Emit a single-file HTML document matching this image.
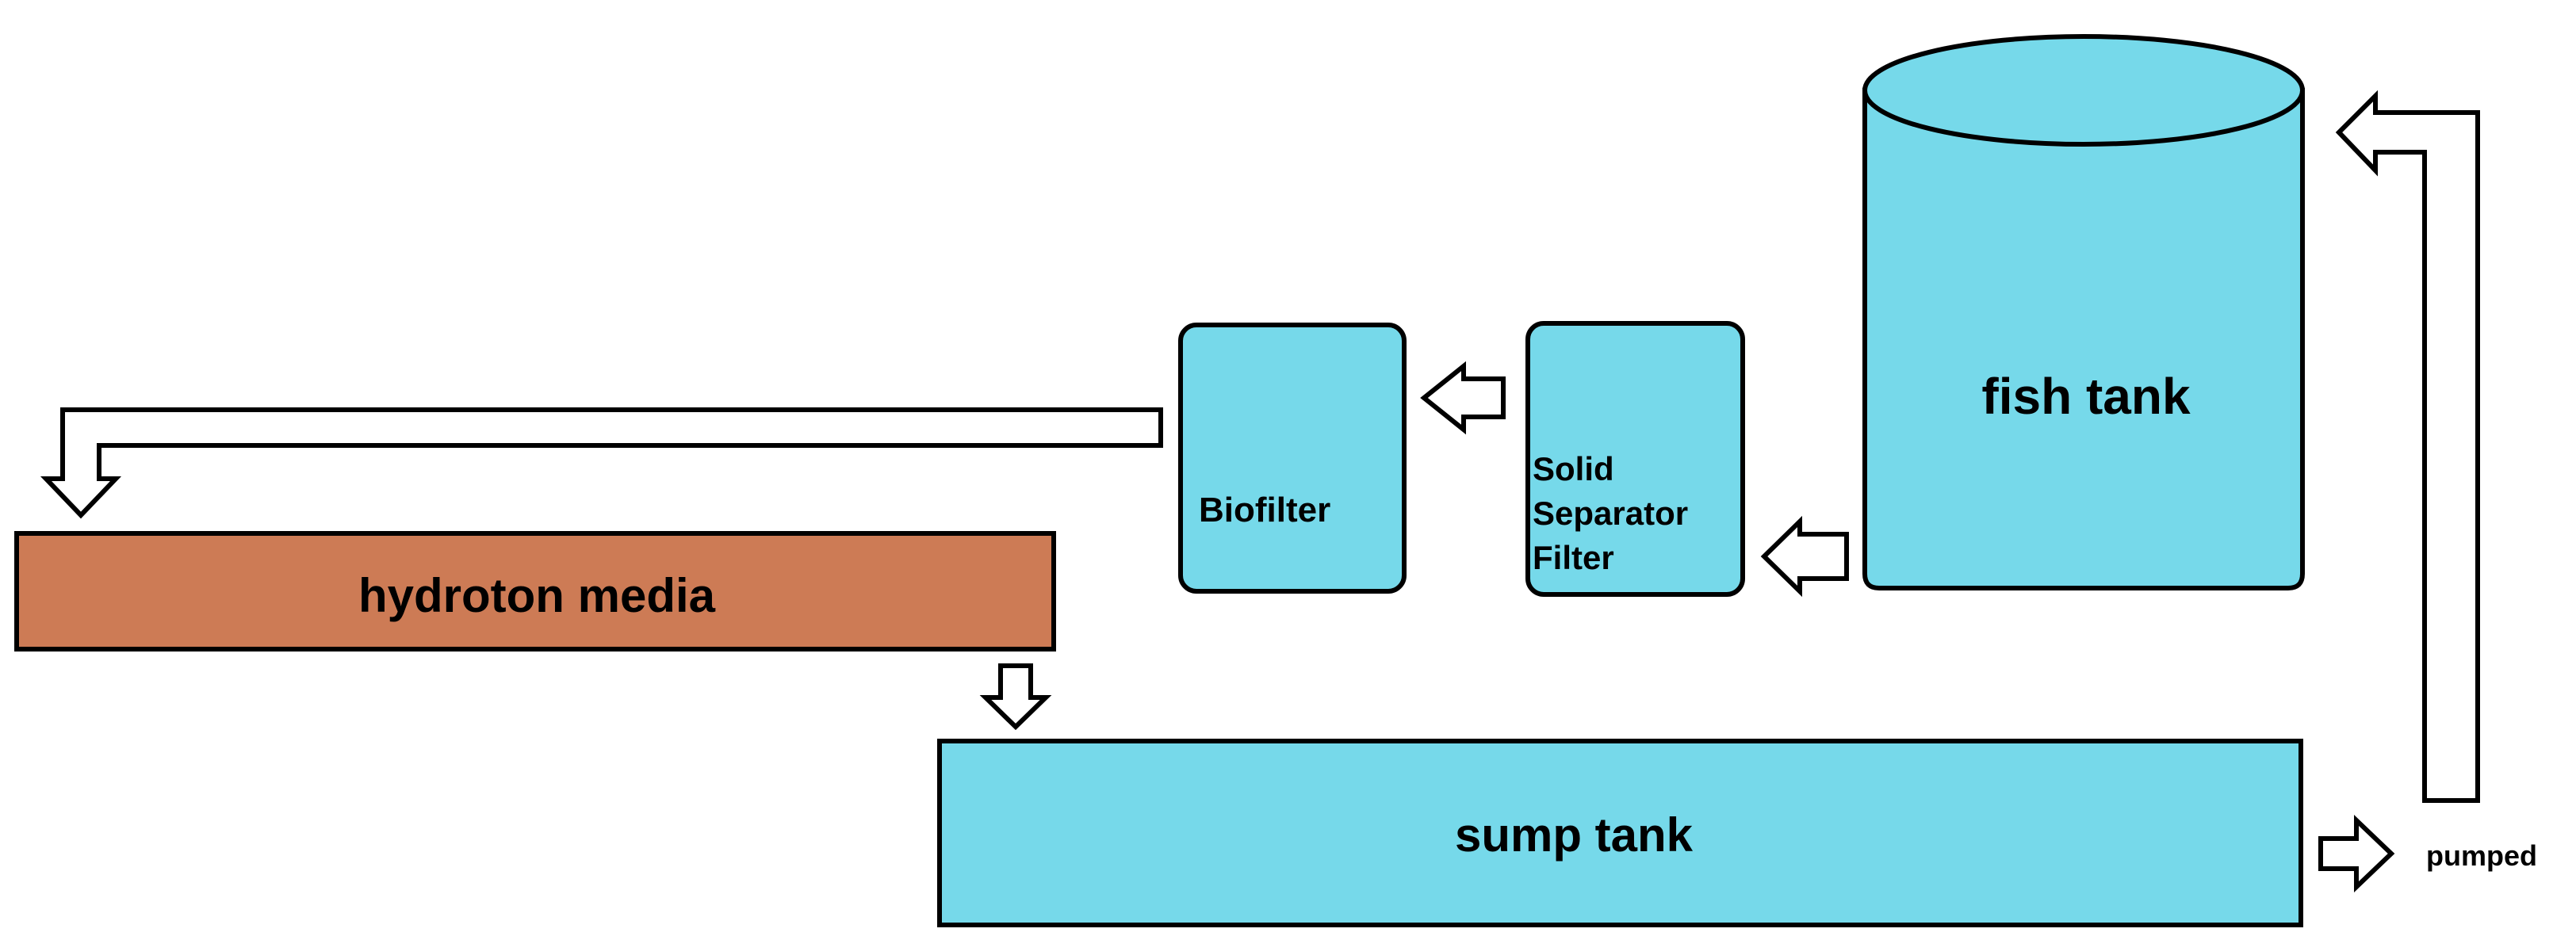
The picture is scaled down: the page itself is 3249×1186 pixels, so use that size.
<!DOCTYPE html>
<html><head><meta charset="utf-8"><style>html,body{margin:0;padding:0;background:#fff}svg{display:block}</style></head>
<body>
<svg width="3249" height="1186" viewBox="0 0 3249 1186" xmlns="http://www.w3.org/2000/svg" font-family="Liberation Sans, Arial, sans-serif" font-weight="bold">
<g stroke="#000" stroke-width="6" stroke-linejoin="miter">
<path d="M2352,114 L2352,724 Q2352,742 2370,742 L2886,742 Q2904,742 2904,724 L2904,114 Z" fill="#76D9EA"/>
<ellipse cx="2628" cy="114" rx="276" ry="68" fill="#76D9EA"/>
<rect x="1927" y="408" width="271" height="342" rx="20" fill="#76D9EA"/>
<rect x="1489" y="410" width="282" height="336" rx="20" fill="#76D9EA"/>
<rect x="21" y="673" width="1308" height="146" fill="#CD7B55"/>
<rect x="1185" y="935" width="1717" height="232" fill="#76D9EA"/>
<polygon points="1796,502 1846,462 1846,478 1896,478 1896,526 1846,526 1846,542" fill="#fff"/>
<polygon points="2225,702 2270,658 2270,674 2329,674 2329,730 2270,730 2270,746" fill="#fff"/>
<polygon points="1464,517 79,517 79,604 58,604 102,650 146,604 125,604 125,562 1464,562" fill="#fff"/>
<polygon points="1262,840 1300,840 1300,880 1319,880 1281,917 1243,880 1262,880" fill="#fff"/>
<polygon points="2927,1058 2972,1058 2972,1035 3016,1077 2972,1119 2972,1096 2927,1096" fill="#fff"/>
<polygon points="2950,167 2996,121 2996,142 3125,142 3125,1010 3058,1010 3058,192 2996,192 2996,215" fill="#fff"/>
</g>
<g fill="#000">
<text x="2631" y="522" font-size="64" text-anchor="middle">fish tank</text>
<text x="1933" y="606" font-size="42">Solid</text>
<text x="1933" y="662" font-size="42">Separator</text>
<text x="1933" y="718" font-size="42">Filter</text>
<text x="1512" y="658" font-size="44">Biofilter</text>
<text x="677" y="772" font-size="60" text-anchor="middle">hydroton media</text>
<text x="1985" y="1074" font-size="60" text-anchor="middle">sump tank</text>
<text x="3060" y="1092" font-size="36">pumped</text>
</g>
</svg>
</body></html>
